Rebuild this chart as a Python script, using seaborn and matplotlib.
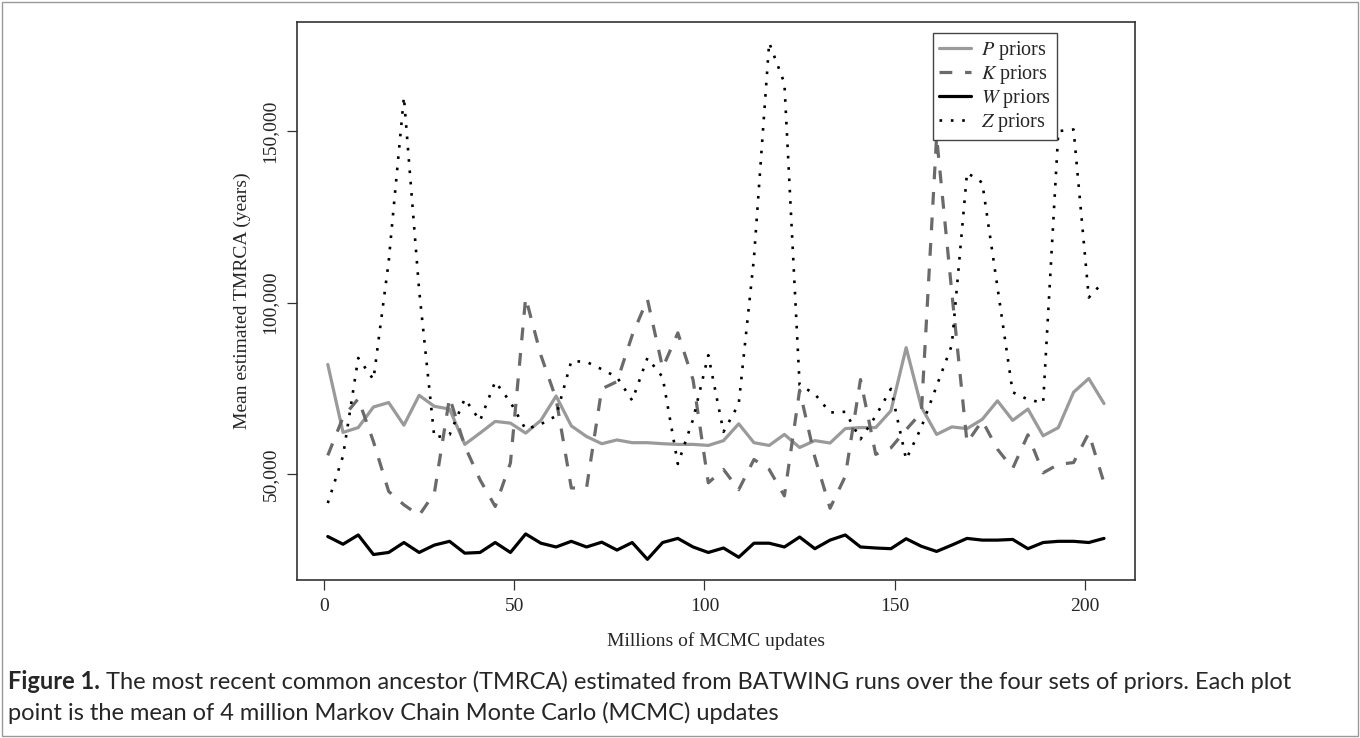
import numpy as np
import pandas as pd
import matplotlib
matplotlib.use("Agg")
import matplotlib.pyplot as plt
from matplotlib.patches import Rectangle
from matplotlib.ticker import FuncFormatter
import seaborn as sns

# Millions of MCMC updates (one point every 4 million)
updates = list(range(1, 206, 4))

p_priors = [82000, 62200, 63600, 69600, 70900, 64300, 73000, 69800, 69000, 58700,
            62000, 65400, 64900, 62000, 65700, 72800, 64100, 61000, 58900, 60000,
            59200, 59200, 58900, 58700, 58700, 58400, 59800, 64700, 59200, 58400,
            61600, 57800, 59800, 59100, 63300, 63600, 63600, 68500, 86900, 69600,
            61600, 63800, 63300, 66000, 71400, 65700, 69000, 61200, 63600, 73900,
            77900, 70600]

k_priors = [55500, 66600, 72000, 59500, 45000, 41100, 38000, 44500, 72400, 58200,
            48400, 40600, 53300, 101500, 84700, 72000, 46000, 46000, 74900, 77000,
            90500, 101000, 81000, 91200, 77500, 47500, 51400, 45500, 54300, 51400,
            43700, 74500, 55000, 40100, 49400, 77600, 55800, 57700, 63000, 68000,
            148400, 103000, 59200, 65600, 57300, 51700, 61500, 50400, 52900, 53400,
            62000, 47500]

w_priors = [31850, 29600, 32300, 26600, 27200, 30100, 27200, 29350, 30450, 27000,
            27200, 30100, 27200, 32600, 29900, 28800, 30450, 28800, 30200, 27900,
            30100, 25200, 30100, 31300, 28800, 27200, 28500, 25800, 29900, 29900,
            28800, 31700, 28300, 30800, 32300, 28800, 28500, 28300, 31200, 29000,
            27500, 29350, 31300, 30800, 30800, 31000, 28300, 30100, 30450, 30450,
            30100, 31300]

z_priors = [41600, 55300, 83900, 77600, 112000, 160000, 103700, 60700, 61500, 72000,
            65600, 77000, 71000, 63100, 64600, 67000, 83000, 82750, 80600, 78300,
            71500, 83900, 78300, 53000, 66000, 84700, 62350, 70500, 113000, 175800,
            164000, 76000, 73400, 68000, 68200, 60200, 67000, 74900, 54300, 63700,
            75700, 87600, 137900, 135000, 104500, 73900, 71800, 70800, 150000, 150500,
            101500, 106300]

series_labels = ["$P$ priors", "$K$ priors", "$W$ priors", "$Z$ priors"]
x_ticks = [0, 50, 100, 150, 200]
y_ticks = [50000, 100000, 150000]

caption_bold = "Figure 1."
caption_line1 = (" The most recent common ancestor (TMRCA) estimated from BATWING runs "
                 "over the four sets of priors. Each plot")
caption_line2 = "point is the mean of 4 million Markov Chain Monte Carlo (MCMC) updates"

sns.set_style("white")
plt.rcParams["font.family"] = ["Liberation Serif", "DejaVu Serif"]
plt.rcParams["mathtext.fontset"] = "stix"

fig = plt.figure(figsize=(13.6, 7.38), dpi=100)
ax = fig.add_axes([0.2182, 0.2141, 0.6164, 0.7561])

styles = [
    dict(color="#9a9a9a", linewidth=2.3, linestyle="-"),
    dict(color="#6a6a6a", linewidth=2.3, linestyle=(0, (4, 4))),
    dict(color="black", linewidth=2.3, linestyle="-"),
    dict(color="black", linewidth=1.9, linestyle=(0, (1, 3.3))),
]
values = [p_priors, k_priors, w_priors, z_priors]

for vals, lab, st in zip(values, series_labels, styles):
    sns.lineplot(x=updates, y=vals, ax=ax, label=lab, **st)

# R style axis ranges (4% padding)
all_vals = np.concatenate([np.array(v) for v in values])
ypad = 0.04 * (all_vals.max() - all_vals.min())
xpad = 0.04 * (max(updates) - min(updates))
ax.set_xlim(min(updates) - xpad, max(updates) + xpad)
ax.set_ylim(all_vals.min() - ypad, all_vals.max() + ypad)

ax.set_xticks(x_ticks)
ax.set_yticks(y_ticks)
ax.yaxis.set_major_formatter(FuncFormatter(lambda v, p: f"{int(v):,}"))
ax.tick_params(axis="both", direction="out", length=7, width=0.9, color="#333333",
               labelsize=14, pad=6, bottom=True, left=True)
for lbl in ax.get_yticklabels():
    lbl.set_rotation(90)
    lbl.set_va("center")

for sp in ax.spines.values():
    sp.set_color("#333333")
    sp.set_linewidth(1.2)

ax.set_xlabel("Millions of MCMC updates", fontsize=14, labelpad=12)
ax.set_ylabel("Mean estimated TMRCA (years)", fontsize=14, labelpad=8)

leg = ax.legend(loc="upper left", bbox_to_anchor=(933 / 1360, 1 - 33 / 738),
                bbox_transform=fig.transFigure, fontsize=14.5, frameon=True,
                fancybox=False, framealpha=1, edgecolor="#444444",
                handlelength=1.6, handletextpad=0.5, labelspacing=0.05,
                borderpad=0.3, borderaxespad=0)
leg.get_frame().set_linewidth(1.0)

# caption under the chart
cap_font = ["Lato", "DejaVu Sans"]
t1 = fig.text(8 / 1360, 1 - 689 / 738, caption_bold, fontsize=17, fontweight="bold",
              family=cap_font, va="baseline")
fig.canvas.draw()
bb = t1.get_window_extent()
fig.text(bb.x1 / fig.bbox.width, 1 - 689 / 738, caption_line1, fontsize=17,
         family=cap_font, va="baseline")
fig.text(8 / 1360, 1 - 720 / 738, caption_line2, fontsize=17,
         family=cap_font, va="baseline")

fig.patches.append(Rectangle((0.0015, 0.003), 0.997, 0.994, transform=fig.transFigure,
                             fill=False, edgecolor="#999999", linewidth=1))

fig.savefig("out.png", dpi=100)
